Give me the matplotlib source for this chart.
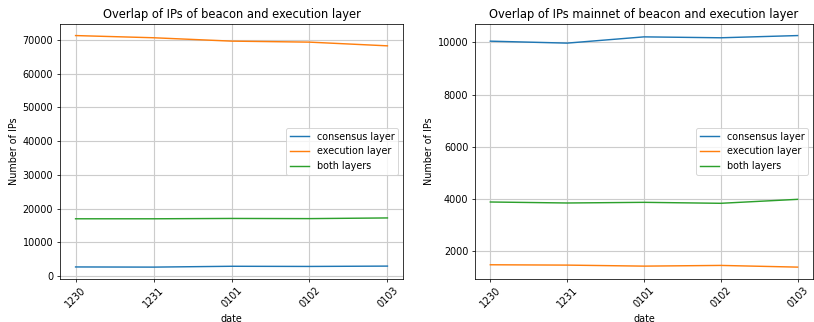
import matplotlib
matplotlib.use("Agg")
import matplotlib.pyplot as plt

dates = ["1230", "1231", "0101", "0102", "0103"]

# all networks
consensus_all = [2650, 2600, 2850, 2800, 2900]
execution_all = [71350, 70700, 69700, 69400, 68300]
both_all = [16950, 16950, 17050, 17000, 17200]

# mainnet only
consensus_main = [10050, 9975, 10215, 10180, 10265]
execution_main = [1465, 1452, 1413, 1440, 1375]
both_main = [3875, 3837, 3862, 3825, 3977]

DPI = 69
fig = plt.figure(figsize=(814 / DPI, 322 / DPI), dpi=DPI)

ax1 = fig.add_axes([0.0737, 0.1345, 0.4214, 0.791])
ax2 = fig.add_axes([0.5835, 0.1345, 0.4152, 0.791])

panels = [
    (ax1, consensus_all, execution_all, both_all,
     "Overlap of IPs of beacon and execution layer"),
    (ax2, consensus_main, execution_main, both_main,
     "Overlap of IPs mainnet of beacon and execution layer"),
]

for ax, cons, exe, both, title in panels:
    ax.plot(dates, cons, label="consensus layer")
    ax.plot(dates, exe, label="execution layer")
    ax.plot(dates, both, label="both layers")
    ax.set_title(title)
    ax.set_xlabel("date")
    ax.set_ylabel("Number of IPs")
    ax.grid(True, color="#cccccc", linewidth=1.2)
    ax.legend(loc="center right")
    for lbl in ax.get_xticklabels():
        lbl.set_rotation(45)

fig.savefig("out.png", dpi=DPI)
